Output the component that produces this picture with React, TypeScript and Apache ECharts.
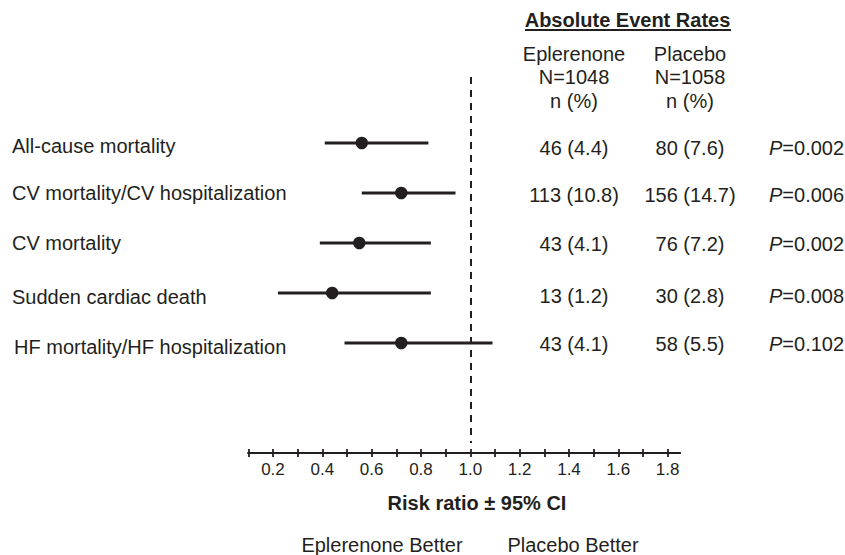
import React, { useEffect, useRef } from "react";
import * as echarts from "echarts";

// ---------- data ----------
const outcomes = [
  "All-cause mortality",
  "CV mortality/CV hospitalization",
  "CV mortality",
  "Sudden cardiac death",
  "HF mortality/HF hospitalization",
];
const riskRatio = [0.56, 0.72, 0.55, 0.44, 0.72];
const ciLow = [0.41, 0.56, 0.39, 0.22, 0.49];
const ciHigh = [0.83, 0.94, 0.84, 0.84, 1.09];
const epleneroneCounts = ["46 (4.4)", "113 (10.8)", "43 (4.1)", "13 (1.2)", "43 (4.1)"];
const placeboCounts = ["80 (7.6)", "156 (14.7)", "76 (7.2)", "30 (2.8)", "58 (5.5)"];
const pValues = ["0.002", "0.006", "0.002", "0.008", "0.102"];
const tickValues = [0.1, 0.2, 0.3, 0.4, 0.5, 0.6, 0.7, 0.8, 0.9, 1.0, 1.1, 1.2, 1.3, 1.4, 1.5, 1.6, 1.7, 1.8];
const tickLabelValues = [0.2, 0.4, 0.6, 0.8, 1.0, 1.2, 1.4, 1.6, 1.8];
const referenceValue = 1.0;
const headerTitle = "Absolute Event Rates";
const eplHeader = ["Eplerenone", "N=1048", "n (%)"];
const plaHeader = ["Placebo", "N=1058", "n (%)"];
const axisTitle = "Risk ratio ± 95% CI";
const leftBetter = "Eplerenone Better";
const rightBetter = "Placebo Better";

// ---------- layout ----------
const INK = "#231f20";
const FONT = "'Liberation Sans', Arial, Helvetica, sans-serif";
const FS = 20;
const labelY = [146, 193, 243, 297, 347];
const tableY = [148, 195, 244, 296, 344];
const labelX = [12, 12, 12, 12, 14];
const col1X = 574;
const col2X = 690;
const pX = 769;
const headerY = [54, 77, 101];

export default function App() {
  const ref = useRef<HTMLDivElement>(null);

  useEffect(() => {
    if (!ref.current) return;
    const chart = echarts.init(ref.current, undefined, { renderer: "svg" });

    const txt = (text: string, x: number, y: number, align: string, bold = false) => ({
      type: "text",
      x,
      y,
      style: {
        text,
        fill: INK,
        fontFamily: FONT,
        fontSize: FS,
        fontWeight: bold ? "bold" : "normal",
        align,
        verticalAlign: "middle",
      },
    });

    const graphics: any[] = [];
    graphics.push(txt(headerTitle, 627.5, 20, "center", true));
    graphics.push({
      type: "line",
      shape: { x1: 525, y1: 30, x2: 731, y2: 30 },
      style: { stroke: INK, lineWidth: 2 },
    });
    eplHeader.forEach((t, i) => graphics.push(txt(t, col1X, headerY[i], "center")));
    plaHeader.forEach((t, i) => graphics.push(txt(t, col2X, headerY[i], "center")));
    outcomes.forEach((t, i) => graphics.push(txt(t, labelX[i], labelY[i], "left")));
    epleneroneCounts.forEach((t, i) => graphics.push(txt(t, col1X, tableY[i], "center")));
    placeboCounts.forEach((t, i) => graphics.push(txt(t, col2X, tableY[i], "center")));
    pValues.forEach((p, i) =>
      graphics.push({
        type: "text",
        x: pX,
        y: tableY[i],
        style: {
          text: `{i|P}{n|=${p}}`,
          fill: INK,
          verticalAlign: "middle",
          align: "left",
          rich: {
            i: { fontStyle: "italic", fontSize: FS, fontFamily: FONT, fill: INK },
            n: { fontSize: FS, fontFamily: FONT, fill: INK },
          },
        },
      })
    );
    graphics.push(txt(axisTitle, 477, 503, "center", true));
    graphics.push(txt(leftBetter, 382, 545, "center"));
    graphics.push(txt(rightBetter, 573, 545, "center"));

    const axisCommon = {
      type: "value",
      min: 0.1,
      max: 1.85,
      position: "bottom",
      splitLine: { show: false },
      axisLine: { show: true, onZero: false, lineStyle: { color: INK, width: 2 } },
    };

    chart.setOption({
      animation: false,
      grid: { left: 248.3, right: 165, top: 73, bottom: 102 },
      xAxis: [
        {
          ...axisCommon,
          axisTick: { show: true, customValues: tickValues, length: 4, lineStyle: { color: INK, width: 1.8 } },
          axisLabel: {
            show: true,
            customValues: tickLabelValues,
            formatter: (v: number) => v.toFixed(1),
            color: INK,
            fontSize: 17,
            fontFamily: FONT,
            margin: 8,
          },
        },
        {
          ...axisCommon,
          axisTick: {
            show: true,
            inside: true,
            customValues: tickValues,
            length: 4,
            lineStyle: { color: INK, width: 1.8 },
          },
          axisLabel: { show: false },
        },
      ],
      yAxis: {
        type: "value",
        inverse: true,
        min: -0.4,
        max: 7.2,
        show: false,
      },
      graphic: graphics,
      series: [
        {
          type: "custom",
          xAxisIndex: 0,
          renderItem: (params: any, api: any) => {
            const row = api.value(0);
            const p1 = api.coord([api.value(1), row]);
            const p2 = api.coord([api.value(2), row]);
            return {
              type: "line",
              shape: { x1: p1[0], y1: p1[1], x2: p2[0], y2: p2[1] },
              style: { stroke: INK, lineWidth: 2.8 },
            };
          },
          encode: { x: [1, 2], y: 0 },
          data: outcomes.map((_, i) => [i + 1, ciLow[i], ciHigh[i]]),
          z: 2,
        },
        {
          type: "scatter",
          xAxisIndex: 0,
          symbol: "circle",
          symbolSize: 12.5,
          itemStyle: { color: INK, opacity: 1 },
          data: outcomes.map((_, i) => [riskRatio[i], i + 1]),
          z: 3,
          markLine: {
            silent: true,
            symbol: ["none", "none"],
            label: { show: false },
            lineStyle: { color: INK, width: 2, type: [7, 6] },
            data: [
              [
                { coord: [referenceValue, -0.32] },
                { coord: [referenceValue, 7.0] },
              ],
            ],
          },
        },
      ],
    });

    return () => chart.dispose();
  }, []);

  return (
    <div
      ref={ref}
      style={{ position: "fixed", left: 0, top: 0, width: 845, height: 555, background: "#fff" }}
    />
  );
}
